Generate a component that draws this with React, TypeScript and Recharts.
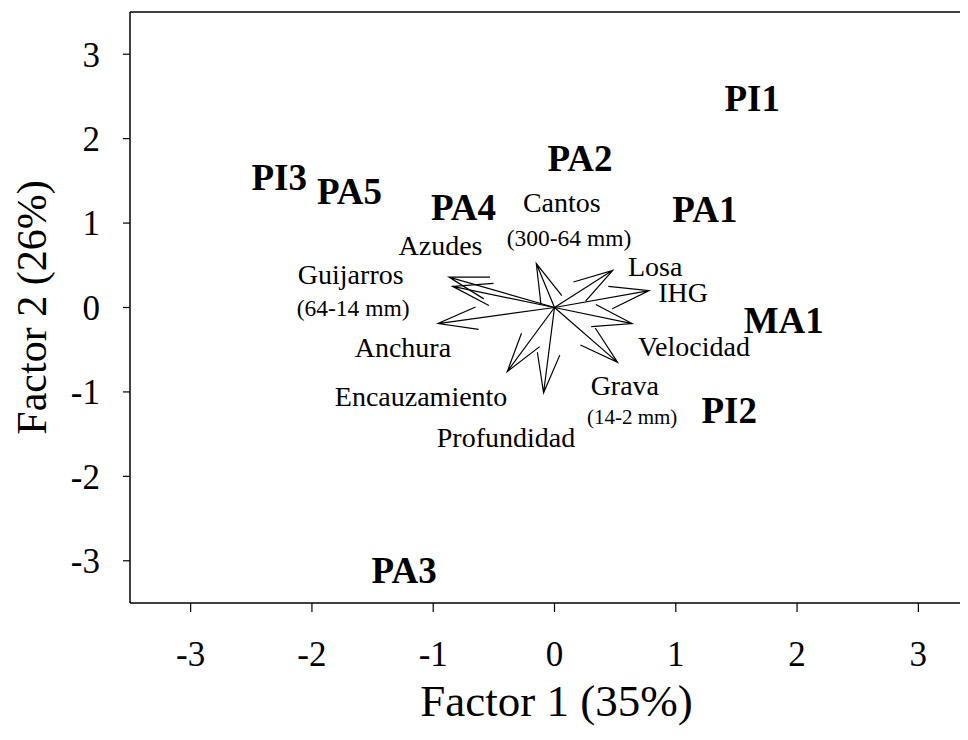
import { ScatterChart, Scatter, XAxis, YAxis, ReferenceLine } from "recharts";

const FONT = '"Liberation Serif", "Times New Roman", serif';

// Site scores on factor 1 / factor 2
const siteNames = ["PI1", "PA2", "PI3", "PA5", "PA4", "PA1", "MA1", "PI2", "PA3"];
const siteF1 = [1.63, 0.21, -2.27, -1.69, -0.75, 1.24, 1.89, 1.44, -1.24];
const siteF2 = [2.48, 1.77, 1.54, 1.37, 1.19, 1.16, -0.15, -1.22, -3.12];

// Variable loadings (arrow tips)
const varNames = ["Cantos", "Losa", "IHG", "Velocidad", "Grava", "Profundidad", "Encauzamiento", "Anchura", "Guijarros", "Azudes"];
const varF1 = [-0.15, 0.48, 0.78, 0.64, 0.52, -0.09, -0.39, -0.96, -0.84, -0.87];
const varF2 = [0.52, 0.44, 0.2, -0.19, -0.65, -1.01, -0.76, -0.19, 0.25, 0.36];

// Captions for the variables, placed in factor space
const captionText = ["Cantos", "(300-64 mm)", "Losa", "IHG", "Velocidad", "Grava", "(14-2 mm)", "Profundidad", "Encauzamiento", "Anchura", "Guijarros", "(64-14 mm)", "Azudes"];
const captionF1 = [0.06, 0.12, 0.83, 1.06, 1.15, 0.58, 0.64, -0.4, -1.1, -1.25, -1.68, -1.66, -0.94];
const captionF2 = [1.24, 0.82, 0.48, 0.18, -0.46, -0.92, -1.3, -1.54, -1.06, -0.47, 0.39, 0.0, 0.73];

const axisTicks = [-3, -2, -1, 0, 1, 2, 3];

const sites = siteNames.map((name, i) => ({ name, x: siteF1[i], y: siteF2[i] }));
const loadings = varNames.map((name, i) => ({ name, x: varF1[i], y: varF2[i] }));
const captions = captionText.map((name, i) => ({ name, x: captionF1[i], y: captionF2[i] }));

const SiteLabel = (p: any) => (
  <text
    x={p.cx}
    y={p.cy}
    textAnchor="middle"
    dominantBaseline="central"
    fontFamily={FONT}
    fontWeight="bold"
    fontSize={37}
    fill="#000"
  >
    {p.payload.name}
  </text>
);

const CaptionLabel = (p: any) => {
  const name: string = p.payload.name;
  const small = name.startsWith("(");
  const size = name === "(14-2 mm)" ? 21 : small ? 23.5 : 28;
  return (
    <text
      x={p.cx}
      y={p.cy}
      textAnchor="middle"
      dominantBaseline="central"
      fontFamily={FONT}
      fontSize={size}
      fill="#000"
    >
      {name}
    </text>
  );
};

// shaft from origin to tip plus an open arrowhead
const arrowShape = (p: any) => {
  const { x1, y1, x2, y2 } = p;
  const back = Math.atan2(y1 - y2, x1 - x2);
  const len = 41;
  const spread = (16 * Math.PI) / 180;
  const ax = x2 + len * Math.cos(back + spread);
  const ay = y2 + len * Math.sin(back + spread);
  const bx = x2 + len * Math.cos(back - spread);
  const by = y2 + len * Math.sin(back - spread);
  return (
    <path
      d={`M${x1},${y1}L${x2},${y2}M${ax},${ay}L${x2},${y2}L${bx},${by}`}
      stroke="#000"
      strokeWidth={1.2}
      fill="none"
    />
  );
};

const xTitle = (props: any) => {
  const vb = props.viewBox;
  return (
    <text
      x={vb.x + vb.width / 2 + 2}
      y={vb.y + 113}
      textAnchor="middle"
      fontFamily={FONT}
      fontSize={45}
      fill="#000"
    >
      Factor 1 (35%)
    </text>
  );
};

const yTitle = (props: any) => {
  const vb = props.viewBox;
  const cx = vb.x + 24;
  const cy = vb.y + vb.height / 2;
  return (
    <text
      x={cx}
      y={cy}
      transform={`rotate(-90 ${cx} ${cy})`}
      textAnchor="middle"
      dominantBaseline="central"
      fontFamily={FONT}
      fontSize={42}
      fill="#000"
    >
      Factor 2 (26%)
    </text>
  );
};

export default function App() {
  return (
    <div style={{ width: 960, height: 724, overflow: "hidden" }}>
      <ScatterChart width={971} height={724} margin={{ top: 4, right: 0, bottom: 0, left: 0 }}>
        <XAxis
          type="number"
          dataKey="x"
          domain={[-3.5, 3.5]}
          ticks={axisTicks}
          allowDataOverflow
          height={129}
          tickSize={9}
          tickMargin={29}
          axisLine={{ stroke: "#000", strokeWidth: 1.5 }}
          tickLine={{ stroke: "#000", strokeWidth: 1.2 }}
          tick={{ fontSize: 35, fill: "#000", fontFamily: FONT }}
          label={{ value: "Factor 1 (35%)", content: xTitle }}
        />
        <YAxis
          type="number"
          dataKey="y"
          domain={[-3.5, 3.5]}
          ticks={axisTicks}
          allowDataOverflow
          width={122}
          tickSize={7}
          tickMargin={23}
          axisLine={{ stroke: "#000", strokeWidth: 1.5 }}
          tickLine={{ stroke: "#000", strokeWidth: 1.2 }}
          tick={{ fontSize: 35, fill: "#000", fontFamily: FONT }}
          label={{ value: "Factor 2 (26%)", content: yTitle }}
        />
        <ReferenceLine y={3.5} stroke="#000" strokeWidth={1.5} />
        <ReferenceLine x={3.5} stroke="#000" strokeWidth={1.5} />
        {loadings.map((v) => (
          <ReferenceLine
            key={v.name}
            segment={[
              { x: 0, y: 0 },
              { x: v.x, y: v.y },
            ]}
            ifOverflow="visible"
            shape={arrowShape}
          />
        ))}
        <Scatter data={captions} shape={CaptionLabel} isAnimationActive={false} />
        <Scatter data={sites} shape={SiteLabel} isAnimationActive={false} />
      </ScatterChart>
    </div>
  );
}
